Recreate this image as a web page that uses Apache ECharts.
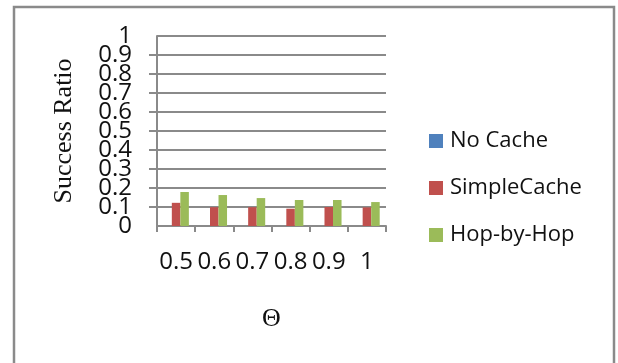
<!DOCTYPE html>
<html>
<head>
<meta charset="utf-8">
<script src="https://cdn.jsdelivr.net/npm/echarts@6/dist/echarts.min.js"></script>
<style>
html,body{margin:0;padding:0;background:#fff;}
#chart{width:618px;height:363px;}
</style>
</head>
<body>
<div id="chart"></div>
<script>
var categories = ['0.5', '0.6', '0.7', '0.8', '0.9', '1'];
var noCache = [0, 0, 0, 0, 0, 0];
var simpleCache = [0.122, 0.099, 0.099, 0.091, 0.1, 0.098];
var hopByHop = [0.179, 0.163, 0.147, 0.137, 0.137, 0.126];
var yTicks = [0, 0.1, 0.2, 0.3, 0.4, 0.5, 0.6, 0.7, 0.8, 0.9, 1];

var axisGray = '#8a8a8a';
var narrowFont = '"Liberation Sans Narrow", "Open Sans", sans-serif';
var sansFont = '"Open Sans", "Liberation Sans", sans-serif';
var serifFont = '"Liberation Serif", "DejaVu Serif", serif';

function tickLabel(v) {
  for (var i = 0; i < yTicks.length; i++) {
    if (Math.abs(yTicks[i] - v) < 1e-9) return String(yTicks[i]);
  }
  return '';
}
function endLabel(v) {
  var lo = yTicks[0], hi = yTicks[yTicks.length - 1];
  if (Math.abs(v - lo) < 1e-9) return String(lo);
  if (Math.abs(v - hi) < 1e-9) return String(hi);
  return '';
}

var chart = echarts.init(document.getElementById('chart'), null, {renderer: 'canvas'});
chart.setOption({
  animation: false,
  backgroundColor: '#ffffff',
  graphic: [{
    type: 'rect',
    shape: {x: 14, y: 7, width: 600, height: 370},
    style: {fill: 'none', stroke: axisGray, lineWidth: 2.5},
    silent: true
  }],
  grid: {left: 157, right: 232, top: 36, bottom: 137, containLabel: false},
  legend: {
    orient: 'vertical',
    left: 424,
    top: 124,
    itemWidth: 14,
    itemHeight: 14,
    itemGap: 23,
    icon: 'rect',
    textStyle: {fontFamily: sansFont, fontSize: 22, color: '#111', lineHeight: 24, padding: [0, 0, 0, 2]},
    data: ['No Cache', 'SimpleCache', 'Hop-by-Hop']
  },
  xAxis: {
    type: 'category',
    data: categories,
    name: 'Θ',
    nameLocation: 'middle',
    nameGap: 80,
    nameTextStyle: {fontFamily: serifFont, fontSize: 26, color: '#111'},
    axisLine: {show: true, lineStyle: {color: axisGray, width: 2}},
    axisTick: {show: true, length: 6, lineStyle: {color: axisGray, width: 2}},
    axisLabel: {fontFamily: narrowFont, fontSize: 24, color: '#111', margin: 24, interval: 0, hideOverlap: false}
  },
  yAxis: [{
    type: 'value',
    min: yTicks[0],
    max: yTicks[yTicks.length - 1],
    interval: 0.1,
    name: 'Success Ratio',
    nameLocation: 'middle',
    nameRotate: 90,
    nameGap: 80,
    nameTextStyle: {fontFamily: serifFont, fontSize: 26, color: '#111'},
    axisLine: {show: true, lineStyle: {color: axisGray, width: 2}},
    axisTick: {show: true, length: 8, lineStyle: {color: axisGray, width: 2}},
    splitLine: {show: true, lineStyle: {color: axisGray, width: 2}},
    axisLabel: {
      fontFamily: narrowFont, fontSize: 24, color: '#111', margin: 25,
      showMinLabel: false, showMaxLabel: false, hideOverlap: false,
      formatter: tickLabel
    }
  }, {
    type: 'value',
    position: 'left',
    offset: 0,
    min: yTicks[0],
    max: yTicks[yTicks.length - 1],
    interval: 0.1,
    axisLine: {show: false},
    axisTick: {show: false},
    splitLine: {show: false},
    axisLabel: {
      fontFamily: narrowFont, fontSize: 24, color: '#111', margin: 25,
      showMinLabel: true, showMaxLabel: true, hideOverlap: false,
      formatter: endLabel
    }
  }],
  series: [
    {name: 'No Cache', type: 'bar', data: noCache, itemStyle: {color: '#4F81BD'}, barGap: '0%', barCategoryGap: '33%'},
    {name: 'SimpleCache', type: 'bar', data: simpleCache, itemStyle: {color: '#C0504D'}, barGap: '0%', barCategoryGap: '33%'},
    {name: 'Hop-by-Hop', type: 'bar', data: hopByHop, itemStyle: {color: '#9BBB59'}, barGap: '0%', barCategoryGap: '33%'}
  ]
});
</script>
</body>
</html>
